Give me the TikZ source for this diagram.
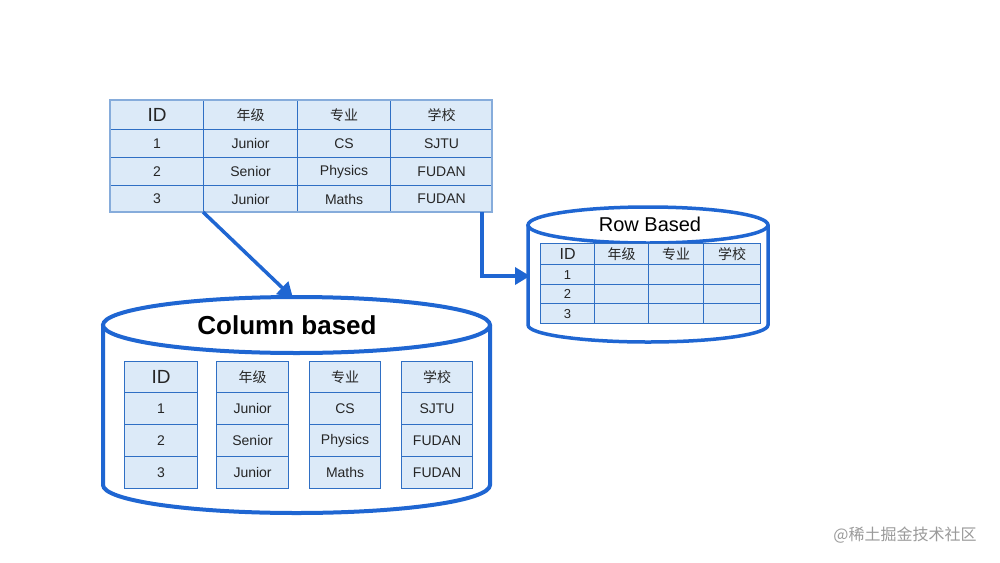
\documentclass[tikz,border=0pt]{standalone}
\usepackage{fontspec}
\setmainfont{Liberation Sans}
\newfontfamily\cjk{Noto Sans CJK SC}
\usetikzlibrary{arrows.meta,shapes.geometric}
\definecolor{lineblue}{HTML}{1F66D2}
\definecolor{cellfill}{HTML}{DCEAF8}
\definecolor{cellline}{HTML}{2F6FC4}
\definecolor{outerline}{HTML}{86ACDB}
\definecolor{wmgray}{HTML}{9A9A9A}
\tikzset{
  cell/.style={draw=cellline, fill=cellfill, line width=1.2pt, inner sep=0pt, anchor=north west, text=black!85},
  cyl/.style={draw=lineblue, line width=4pt, fill=white},
  conn/.style={draw=lineblue, line width=3.5pt, -{Triangle[length=15pt,width=17pt]}},
  tt/.style={font=\fontsize{14}{14}\selectfont},
  th/.style={font=\fontsize{19}{19}\selectfont},
  tc/.style={font=\cjk\fontsize{14}{14}\selectfont},
  st/.style={font=\fontsize{13}{13}\selectfont},
}
\newcommand\mycell[7][tt]{\node[cell,#1,minimum width={(#4-#2)*1pt},minimum height={(#5-#3)*1pt}] (#6) at (#2,#3) {#7};}
\begin{document}
\begin{tikzpicture}[x=1pt,y=-1pt]
\fill[white] (0,0) rectangle (1000,562);
\useasboundingbox (0,0) rectangle (1000,562);
% top table
\mycell[th]{110}{100}{203}{129}{t00}{ID}
\mycell[tc]{203}{100}{297}{129}{t01}{年级}
\mycell[tc]{297}{100}{390}{129}{t02}{专业}
\mycell[tc]{390}{100}{492}{129}{t03}{学校}
\mycell{110}{129}{203}{157}{t10}{1}
\mycell{203}{129}{297}{157}{t11}{Junior}
\mycell{297}{129}{390}{157}{t12}{CS}
\mycell{390}{129}{492}{157}{t13}{SJTU}
\mycell{110}{157}{203}{185}{t20}{2}
\mycell{203}{157}{297}{185}{t21}{Senior}
\mycell{297}{157}{390}{185}{t22}{Physics}
\mycell{390}{157}{492}{185}{t23}{FUDAN}
\mycell{110}{185}{203}{212}{t30}{3}
\mycell{203}{185}{297}{212}{t31}{Junior}
\mycell{297}{185}{390}{212}{t32}{Maths}
\mycell{390}{185}{492}{212}{t33}{FUDAN}
\draw[outerline, line width=1.5pt] (110,100) rectangle (492,212);
% big cylinder
\path[cyl] (103,325) -- (103,485) arc[start angle=180, end angle=360, x radius=193.5pt, y radius=28pt] -- (490,325);
\node[cyl, ellipse, minimum width=387pt, minimum height=56pt, inner sep=0pt] (colcyl) at (296.5,325) {};
\node[font=\bfseries\fontsize{26}{26}\selectfont] (coltitle) at (287,325) {Column based};
% column tables
\mycell[th]{124}{361}{197}{392}{a0}{ID}
\mycell{124}{392}{197}{424}{a1}{1}
\mycell{124}{424}{197}{456}{a2}{2}
\mycell{124}{456}{197}{488}{a3}{3}
\mycell[tc]{216}{361}{288}{392}{b0}{年级}
\mycell{216}{392}{288}{424}{b1}{Junior}
\mycell{216}{424}{288}{456}{b2}{Senior}
\mycell{216}{456}{288}{488}{b3}{Junior}
\mycell[tc]{309}{361}{380}{392}{c0}{专业}
\mycell{309}{392}{380}{424}{c1}{CS}
\mycell{309}{424}{380}{456}{c2}{Physics}
\mycell{309}{456}{380}{488}{c3}{Maths}
\mycell[tc]{401}{361}{472}{392}{d0}{学校}
\mycell{401}{392}{472}{424}{d1}{SJTU}
\mycell{401}{424}{472}{456}{d2}{FUDAN}
\mycell{401}{456}{472}{488}{d3}{FUDAN}
% row cylinder
\path[cyl, line width=3.5pt] (528,225) -- (528,325) arc[start angle=180, end angle=360, x radius=120pt, y radius=17pt] -- (768,225);
\node[cyl, line width=3.5pt, ellipse, minimum width=240pt, minimum height=36pt, inner sep=0pt] (rowcyl) at (648,225) {};
\node[font=\fontsize{20}{20}\selectfont] (rowtitle) at (650,224) {Row Based};
\mycell[st]{540}{243}{594}{264}{r00}{\fontsize{16}{16}\selectfont ID}
\mycell[tc]{594}{243}{648}{264}{r01}{年级}
\mycell[tc]{648}{243}{703}{264}{r02}{专业}
\mycell[tc]{703}{243}{760}{264}{r03}{学校}
\mycell[st]{540}{264}{594}{284}{r10}{1}
\mycell{594}{264}{648}{284}{r11}{}
\mycell{648}{264}{703}{284}{r12}{}
\mycell{703}{264}{760}{284}{r13}{}
\mycell[st]{540}{284}{594}{303}{r20}{2}
\mycell{594}{284}{648}{303}{r21}{}
\mycell{648}{284}{703}{303}{r22}{}
\mycell{703}{284}{760}{303}{r23}{}
\mycell[st]{540}{303}{594}{323}{r30}{3}
\mycell{594}{303}{648}{323}{r31}{}
\mycell{648}{303}{703}{323}{r32}{}
\mycell{703}{303}{760}{323}{r33}{}
% connectors
\coordinate (s1) at (203,212);
\coordinate (e1) at (293,298);
\coordinate (s2) at (482,212);
\coordinate (e2) at (530,276);
\draw[conn] (s1) -- (e1);
\draw[conn] (s2) |- (e2);
% watermark
\node[font=\cjk\fontsize{16}{16}\selectfont, text=wmgray] (wm) at (905,535) {@稀土掘金技术社区};
\end{tikzpicture}
\end{document}
